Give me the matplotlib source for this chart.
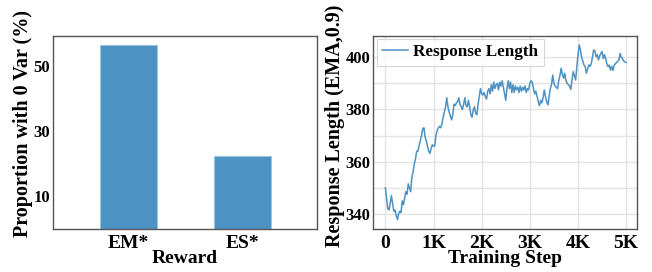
import matplotlib
matplotlib.use("Agg")
import matplotlib.pyplot as plt
from matplotlib.ticker import MultipleLocator
import numpy as np

plt.rcParams['font.family'] = ['Liberation Serif', 'DejaVu Serif']
plt.rcParams['font.weight'] = 'bold'

# Left panel data
reward_labels = ["EM*", "ES*"]
zero_var_pct = [56.5, 22.5]

# Right panel data
steps = list(range(0, 5001, 25))
resp_len = [
    350, 346, 342, 341.5, 344, 347, 344, 341, 341.5, 339.5,
    337.8, 340, 341, 340.5, 345, 343.5, 346, 348.5, 347.5, 351.5,
    350, 348.5, 354, 356, 359, 361, 364, 364, 366, 368,
    370, 372.5, 373, 369.5, 368, 366, 364, 363.2, 365, 366.5,
    366, 366, 370, 372, 373, 373.5, 373, 374.5, 377, 379,
    381, 384.5, 381, 379, 377.5, 376, 378, 382, 381.5, 382.5,
    383, 384.5, 382, 381, 380, 382, 384.5, 381.5, 381, 383.5,
    381, 378, 377, 380, 381, 378.5, 378, 382, 385, 388,
    386, 385.5, 386.5, 385, 384, 387, 388, 386, 389.5, 387,
    390.5, 388, 389.5, 390, 387.5, 390.5, 389, 391, 388.5, 386,
    383.5, 388, 391, 388, 390.5, 386.5, 389.5, 386.5, 389, 387.5,
    388.5, 386.5, 389, 387, 388.5, 387.5, 389, 386.5, 388, 387.5,
    390, 391, 390.5, 388, 386, 387, 385, 383, 381.5, 383.5,
    382.5, 384.5, 387.5, 385, 383, 381.8, 385, 388, 389.5, 393.2,
    390, 389, 388.5, 388, 391, 393, 395.8, 393.5, 392, 393.9,
    391, 390, 389.5, 389, 387.7, 391, 394.5, 393, 391.3, 396,
    400.9, 404.7, 403, 400, 398.5, 397, 396.4, 393.9, 395.5, 397.1,
    396.5, 397.5, 400, 402.8, 402.5, 400.3, 401, 399, 400.5, 401.5,
    402.2, 399.5, 401, 399.5, 397.5, 396.4, 397, 395.1, 396.5, 395,
    397, 397.5, 398, 398.5, 399, 401.5, 400, 399.5, 398.5, 398.3,
    398,
]

bar_color = "#4c92c3"
spine_color = "#555555"

fig = plt.figure(figsize=(6.52, 2.72), dpi=100)

# ---- Left panel ----
ax1 = fig.add_axes([0.081, 0.158, 0.405, 0.710])
x = np.arange(len(reward_labels))
ax1.bar(x, zero_var_pct, width=0.5, color=bar_color, edgecolor="#9cc4e4", linewidth=0.8)
ax1.set_xticks(x)
ax1.set_xticklabels(reward_labels, fontsize=14, fontweight='bold')
ax1.set_xlim(-0.66, 1.65)
ax1.set_ylim(0, 59.2)
ax1.set_yticks([10, 30, 50])
ax1.tick_params(axis='y', labelsize=12, length=0, pad=2)
ax1.tick_params(axis='x', length=0, pad=4)
ax1.set_xlabel("Reward", fontsize=14, fontweight='bold', labelpad=-1)
ax1.set_ylabel("Proportion with 0 Var (%)", fontsize=14.5, fontweight='bold', labelpad=0.5)
ax1.yaxis.label.set_y(0.547)
for s in ax1.spines.values():
    s.set_color(spine_color)
    s.set_linewidth(1.0)

# ---- Right panel ----
ax2 = fig.add_axes([0.5726, 0.158, 0.404, 0.710])
ax2.plot(steps, resp_len, color=bar_color, linewidth=1.1, label="Response Length")
ax2.set_xlim(-250, 5220)
ax2.set_ylim(334.2, 408.2)
ax2.set_xticks([0, 1000, 2000, 3000, 4000, 5000])
ax2.set_xticklabels(["0", "1K", "2K", "3K", "4K", "5K"], fontsize=14, fontweight='bold')
ax2.yaxis.set_major_locator(MultipleLocator(20))
ax2.yaxis.set_minor_locator(MultipleLocator(10))
ax2.tick_params(axis='y', which='both', labelsize=12, length=0, pad=2)
ax2.tick_params(axis='x', length=0, pad=4)
ax2.grid(True, which='both', color="#e3e3e3", linewidth=1.0)
ax2.set_axisbelow(True)
ax2.set_xlabel("Training Step", fontsize=14, fontweight='bold', labelpad=-1)
ax2.set_ylabel("Response Length (EMA,0.9)", fontsize=14.5, fontweight='bold', labelpad=0.5)
ax2.yaxis.label.set_y(0.536)
leg = ax2.legend(loc='upper left', prop={'family': 'Liberation Serif', 'weight': 'bold', 'size': 12.3},
                 frameon=True, fancybox=False, edgecolor="#cccccc", borderaxespad=0.2,
                 handlelength=1.5, borderpad=0.3, handletextpad=0.35)
leg.get_frame().set_linewidth(0.8)
for s in ax2.spines.values():
    s.set_color(spine_color)
    s.set_linewidth(1.0)

fig.savefig("out.png", dpi=100)
